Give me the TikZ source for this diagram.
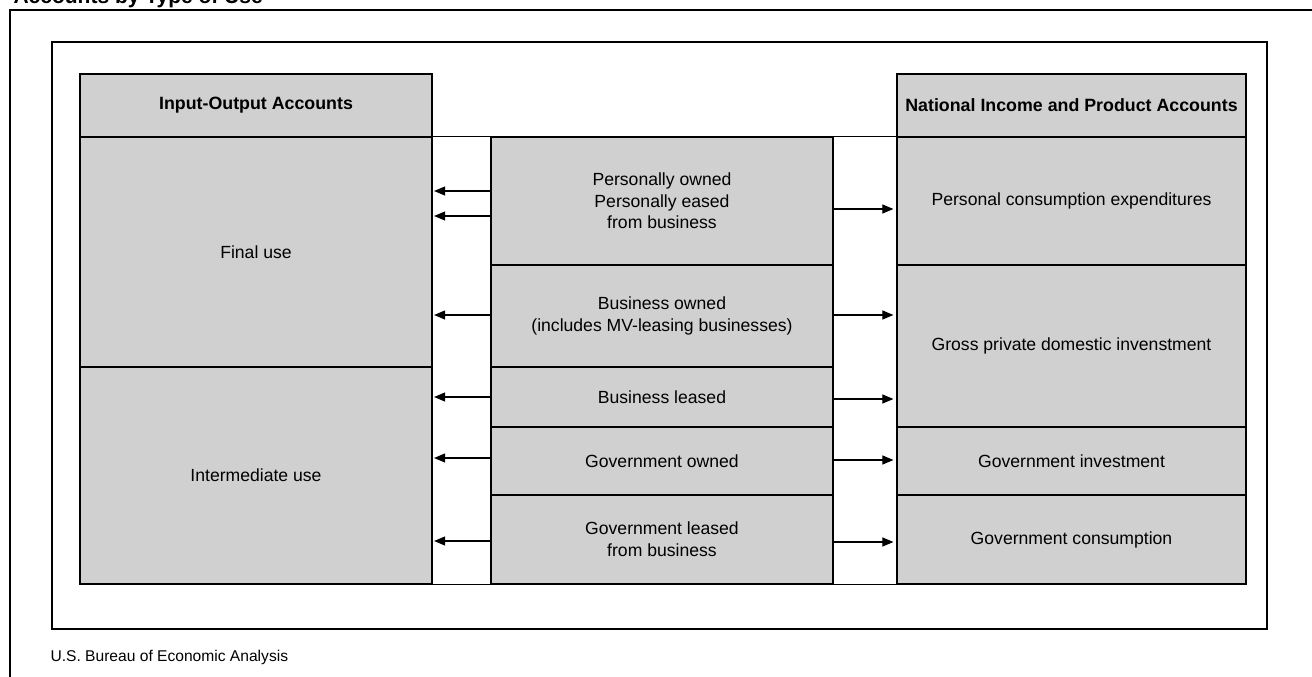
\documentclass[tikz,border=0pt]{standalone}
\usepackage{fontspec}
\setmainfont{Liberation Sans}
\usetikzlibrary{arrows.meta}

\definecolor{cellgray}{RGB}{208,208,208}
\tikzset{
  frame/.style={line width=1.4pt},
  cell/.style={draw, fill=cellgray, line width=1.2pt, inner sep=0pt, align=center,
    font=\fontsize{17.6}{21.6}\selectfont},
  headcell/.style={cell, font=\bfseries\fontsize{17.8}{21.6}\selectfont},
  flow/.style={-{Triangle[length=11pt,width=9pt]}, line width=1.1pt},
}

\begin{document}
\begin{tikzpicture}[x=1pt, y=-1pt]
  \useasboundingbox (0,0) rectangle (1312,677);

  % frames and captions
  \draw[frame] (10,677) -- (10,10) -- (1312,10);
  \draw[frame] (52,42) rectangle (1267,629);
  \node[anchor=base west, font=\bfseries\fontsize{21}{25}\selectfont] (title) at (10,4) {Accounts by Type of Use};
  \node[anchor=west, font=\fontsize{15.6}{18}\selectfont] (source) at (47,657) {U.S. Bureau of Economic Analysis};

  % input-output accounts
  \node[headcell, minimum width=352pt, minimum height=63pt] (ioa) at (256,105.5) {Input-Output Accounts};
  \node[cell, minimum width=352pt, minimum height=230pt] (final) at (256,252) {Final use};
  \node[cell, minimum width=352pt, minimum height=217pt] (intermed) at (256,475.5) {Intermediate use};

  % types of use
  \node[cell, minimum width=342pt, minimum height=128pt] (pers) at (662,201) {Personally owned\\Personally eased\\from business};
  \node[cell, minimum width=342pt, minimum height=102pt] (bown) at (662,316) {Business owned\\(includes MV-leasing businesses)};
  \node[cell, minimum width=342pt, minimum height=60pt] (blease) at (662,397) {Business leased};
  \node[cell, minimum width=342pt, minimum height=68pt] (gown) at (662,461) {Government owned};
  \node[cell, minimum width=342pt, minimum height=89pt] (glease) at (662,539.5) {Government leased\\from business};

  % national income and product accounts
  \node[headcell, minimum width=349pt, minimum height=63pt] (nipa) at (1071.5,105.5) {National Income and Product Accounts};
  \node[cell, minimum width=349pt, minimum height=128pt] (pce) at (1071.5,201) {Personal consumption expenditures};
  \node[cell, minimum width=349pt, minimum height=162pt] (gpdi) at (1071.5,346) {Gross private domestic invenstment};
  \node[cell, minimum width=349pt, minimum height=68pt] (ginv) at (1071.5,461) {Government investment};
  \node[cell, minimum width=349pt, minimum height=89pt] (gcons) at (1071.5,539.5) {Government consumption};

  \draw[line width=1.2pt] (final.north east) -- (pce.north west);
  \draw[line width=1.2pt] (intermed.south east) -- (gcons.south west);

  % to input-output
  \draw[flow, shorten >=1.5pt] (pers.west |- 0,191) -- (final.east |- 0,191);
  \draw[flow, shorten >=1.5pt] (pers.west |- 0,216) -- (final.east |- 0,216);
  \draw[flow, shorten >=1.5pt] (bown.west |- 0,315) -- (final.east |- 0,315);
  \draw[flow, shorten >=1.5pt] (blease.west |- 0,397) -- (intermed.east |- 0,397);
  \draw[flow, shorten >=1.5pt] (gown.west |- 0,458) -- (intermed.east |- 0,458);
  \draw[flow, shorten >=1.5pt] (glease.west |- 0,541) -- (intermed.east |- 0,541);

  % to NIPA
  \draw[flow, shorten >=3pt] (pers.east |- 0,209) -- (pce.west |- 0,209);
  \draw[flow, shorten >=3pt] (bown.east |- 0,315) -- (gpdi.west |- 0,315);
  \draw[flow, shorten >=3pt] (blease.east |- 0,399) -- (gpdi.west |- 0,399);
  \draw[flow, shorten >=3pt] (gown.east |- 0,460) -- (ginv.west |- 0,460);
  \draw[flow, shorten >=3pt] (glease.east |- 0,542) -- (gcons.west |- 0,542);
\end{tikzpicture}
\end{document}
